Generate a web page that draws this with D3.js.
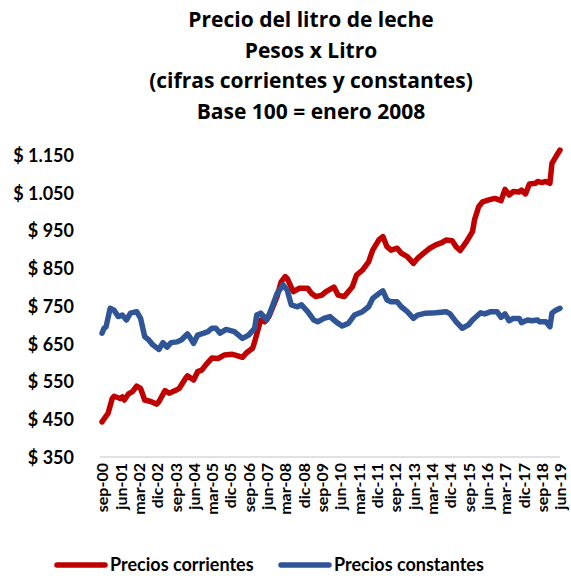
<!DOCTYPE html>
<html><head><meta charset="utf-8">
<script src="https://cdnjs.cloudflare.com/ajax/libs/d3/7.8.5/d3.min.js"></script>
<style>
html,body{margin:0;padding:0;background:#fff;}
svg{display:block;font-family:Lato,"Open Sans",sans-serif;font-weight:bold;}
</style></head>
<body>
<svg id="chart" width="571" height="576"></svg>
<script>
const titleLines = ["Precio del litro de leche","Pesos x Litro","(cifras corrientes y constantes)","Base 100 = enero 2008"];
const seriesNames = ["Precios corrientes","Precios constantes"];
const yTicks = [350,450,550,650,750,850,950,1050,1150];
const monthNames = ["ene","feb","mar","abr","may","jun","jul","ago","sep","oct","nov","dic"];

const corrDates = ["2000-09","2000-12","2001-02","2001-03","2001-06","2001-07","2001-08","2001-10","2001-12","2002-02","2002-04","2002-06","2002-09","2002-12","2003-01","2003-04","2003-06","2003-09","2003-11","2004-02","2004-03","2004-06","2004-08","2004-10","2004-12","2005-03","2005-06","2005-09","2006-01","2006-03","2006-06","2006-08","2006-11","2006-12","2007-02","2007-03","2007-05","2007-07","2007-09","2007-11","2008-01","2008-03","2008-04","2008-07","2008-10","2009-02","2009-04","2009-06","2009-09","2009-11","2010-03","2010-05","2010-08","2010-10","2010-12","2011-02","2011-05","2011-08","2011-10","2012-01","2012-03","2012-05","2012-07","2012-10","2012-12","2013-03","2013-06","2013-08","2013-11","2014-02","2014-05","2014-08","2014-10","2015-01","2015-03","2015-05","2015-08","2015-11","2015-12","2016-02","2016-04","2016-07","2016-10","2017-01","2017-03","2017-05","2017-07","2017-10","2017-11","2018-01","2018-03","2018-06","2018-07","2018-09","2018-11","2019-01","2019-02","2019-04","2019-06"];
const corrValues = [443,466,505,511,505,509,501,517,523,538,532,501,497,490,497,526,519,526,532,558,565,554,576,580,594,612,611,620,622,619,614,626,638,655,695,713,708,722,748,775,814,828,823,788,797,797,783,775,779,788,800,779,775,788,801,832,845,867,898,925,934,907,898,903,890,881,863,876,890,903,912,918,925,923,907,897,920,947,978,1013,1026,1031,1035,1029,1059,1044,1053,1052,1057,1047,1073,1075,1080,1077,1080,1075,1128,1146,1163];

const constDates = ["2000-09","2000-10","2000-11","2001-01","2001-03","2001-05","2001-07","2001-09","2001-11","2002-02","2002-04","2002-06","2002-08","2002-10","2003-01","2003-03","2003-05","2003-07","2003-10","2003-12","2004-03","2004-04","2004-06","2004-08","2004-11","2005-01","2005-03","2005-05","2005-07","2005-10","2006-02","2006-06","2006-09","2006-12","2007-01","2007-03","2007-06","2007-08","2007-11","2008-02","2008-04","2008-06","2008-09","2008-11","2009-02","2009-05","2009-07","2009-10","2010-01","2010-04","2010-07","2010-10","2011-01","2011-05","2011-08","2011-10","2012-01","2012-03","2012-05","2012-07","2012-10","2012-12","2013-03","2013-06","2013-08","2013-12","2014-05","2014-10","2014-12","2015-03","2015-06","2015-09","2015-11","2016-03","2016-05","2016-08","2016-11","2017-01","2017-03","2017-05","2017-07","2017-10","2017-11","2018-02","2018-04","2018-07","2018-08","2018-11","2019-01","2019-02","2019-04","2019-06"];
const constValues = [678,691,695,744,739,722,726,713,731,735,717,669,660,647,635,653,641,653,655,660,676,669,651,673,678,682,691,691,678,688,682,664,673,691,726,731,713,739,783,806,792,753,748,753,735,713,708,717,722,708,697,704,726,735,748,770,783,790,766,761,761,748,735,717,726,731,732,735,729,708,691,700,713,732,729,735,735,720,729,711,717,717,706,713,711,713,708,708,695,731,739,744];

const colors = ["#C00000","#2F5597"];

const parse = d3.timeParse("%Y-%m");
const svg = d3.select("#chart");

const x = d3.scaleTime().domain([parse("2000-09"), parse("2019-06")]).range([102, 560]);
const y = d3.scaleLinear().domain([350, 1150]).range([457, 155]);

// Title
svg.append("g").selectAll("text").data(titleLines).join("text")
  .attr("x", 311).attr("y", (d,i) => 27 + i*30.7)
  .attr("text-anchor","middle").attr("font-size", 21).attr("font-family","'Open Sans', sans-serif")
  .attr("font-weight","bold").attr("fill","#000")
  .text(d => d);

// Y axis labels
const loc = d3.formatLocale({decimal:",", thousands:".", grouping:[3], currency:["$ ",""]});
const fmt = loc.format("$,");
const yAxis = d3.axisLeft(y).tickValues(yTicks).tickSize(0).tickPadding(0).tickFormat(fmt);
const gy = svg.append("g").attr("transform","translate(74,0)").call(yAxis);
gy.select(".domain").remove();
gy.selectAll("text").attr("font-size",18).attr("font-family","Lato, sans-serif").attr("font-weight","bold").attr("fill","#000").attr("dy","0.36em");

// X axis
const xTickDates = d3.timeMonth.every(1).range(parse("2000-09"), parse("2019-07")).filter((d,i) => i % 9 === 0);
const xAxis = d3.axisBottom(x).tickValues(xTickDates).tickSize(0).tickPadding(0)
  .tickFormat(d => monthNames[d.getMonth()] + "-" + d3.timeFormat("%y")(d));
const gx = svg.append("g").attr("transform","translate(0,457)").call(xAxis);
gx.select(".domain").attr("d","M100,0H560").attr("stroke","#d9d9d9").attr("stroke-width",1.5);
gx.selectAll("text").attr("font-size",16).attr("font-family","Lato, sans-serif").attr("font-weight","bold").attr("fill","#000")
  .attr("text-anchor","end").attr("transform","rotate(-90)").attr("x",-6).attr("y",0).attr("dy","0.36em");

// Lines
const line = d3.line().x(d => x(d[0])).y(d => y(d[1]));
const corr = corrDates.map((d,i) => [parse(d), corrValues[i]]);
const cons = constDates.map((d,i) => [parse(d), constValues[i]]);
[corr, cons].forEach((data, i) => {
  svg.append("path").datum(data).attr("d", line).attr("fill","none")
    .attr("stroke", colors[i]).attr("stroke-width", 5.5)
    .attr("stroke-linejoin","round").attr("stroke-linecap","round");
});

// Legend
const legX = [57, 281];
seriesNames.forEach((name, i) => {
  const g = svg.append("g");
  g.append("line").attr("x1", legX[i]).attr("x2", legX[i]+48).attr("y1",565).attr("y2",565)
    .attr("stroke", colors[i]).attr("stroke-width",5.5).attr("stroke-linecap","round");
  g.append("text").attr("x", legX[i]+53).attr("y", 571).attr("font-size",18).attr("fill","#000").text(name);
});
</script>
</body></html>
